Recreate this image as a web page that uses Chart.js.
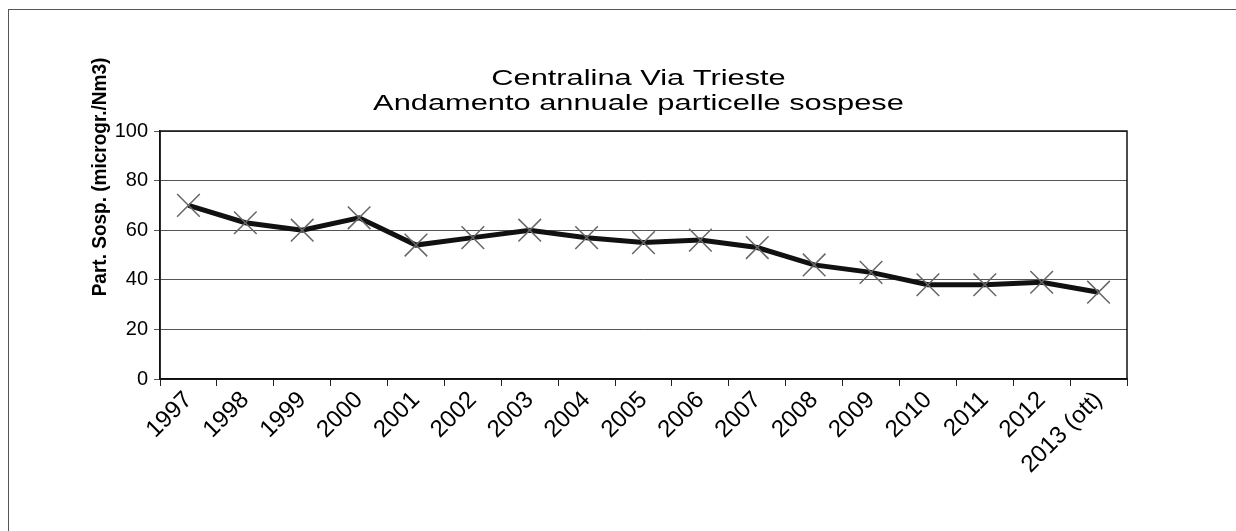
<!DOCTYPE html>
<html>
<head>
<meta charset="utf-8">
<script src="https://cdn.jsdelivr.net/npm/chart.js@4/dist/chart.umd.min.js"></script>
<style>
  html, body { margin: 0; padding: 0; background: #fff; }
  .frame {
    position: absolute; left: 8px; top: 9px; width: 1228px; height: 522px;
    border-top: 1px solid #555; border-left: 1px solid #555;
  }
  .chart-box { position: absolute; left: 0; top: 0; width: 1236px; height: 531px; }
</style>
</head>
<body>
<div class="frame"></div>
<div class="chart-box"><canvas id="chart" width="1236" height="531"></canvas></div>
<script>
// data
const years = ["1997", "1998", "1999", "2000", "2001", "2002", "2003", "2004", "2005",
  "2006", "2007", "2008", "2009", "2010", "2011", "2012", "2013 (ott)"];
const pm = [70, 63, 60, 65, 54, 57, 60, 57, 55, 56, 53, 46, 43, 38, 38, 39, 35];
const yTicks = [0, 20, 40, 60, 80, 100];

const titleLines = ["Centralina Via Trieste", "Andamento annuale particelle sospese"];
const yTitle = "Part. Sosp. (microgr./Nm3)";

const FONT = "'Liberation Sans', Arial, sans-serif";

// title, y axis title and plot frame, drawn like the spreadsheet did
const decorPlugin = {
  id: "decor",
  afterDraw(chart) {
    const { ctx, chartArea } = chart;
    const cx = (chartArea.left + chartArea.right) / 2;
    ctx.save();
    ctx.fillStyle = "#000";
    ctx.font = "22px " + FONT;
    ctx.textAlign = "center";
    ctx.textBaseline = "middle";
    // the scanned title is a bit wider than the plain font
    ctx.save();
    ctx.translate(cx - 5, 0);
    ctx.scale(1.4, 1);
    ctx.fillText(titleLines[0], 0, chartArea.top - 52);
    ctx.fillText(titleLines[1], 0, chartArea.top - 27);
    ctx.restore();

    ctx.font = "bold 19px " + FONT;
    ctx.translate(chartArea.left - 60, chartArea.top + 46);
    ctx.rotate(-Math.PI / 2);
    ctx.scale(1, 1.1);
    ctx.fillText(yTitle, 0, 0);
    ctx.restore();

    ctx.save();
    ctx.strokeStyle = "#111";
    ctx.lineWidth = 1.5;
    ctx.strokeRect(chartArea.left, chartArea.top, chartArea.right - chartArea.left, chartArea.bottom - chartArea.top);
    ctx.restore();
  }
};

new Chart(document.getElementById("chart"), {
  type: "line",
  data: {
    labels: years,
    datasets: [{
      data: pm,
      borderColor: "#111",
      borderWidth: 5,
      tension: 0,
      pointStyle: "crossRot",
      pointRadius: 16,
      pointHoverRadius: 16,
      pointBorderColor: "#666",
      pointBorderWidth: 1.5,
      pointBackgroundColor: "#666"
    }]
  },
  options: {
    responsive: false,
    animation: false,
    devicePixelRatio: 1,
    layout: { padding: { left: 0, right: 109, top: 131, bottom: 52 } },
    plugins: {
      legend: { display: false },
      title: { display: false },
      tooltip: { enabled: false }
    },
    scales: {
      x: {
        offset: true,
        grid: {
          offset: true,
          drawOnChartArea: false,
          drawTicks: true,
          tickLength: 7,
          color: "#222"
        },
        border: { color: "#111", width: 1.5 },
        ticks: {
          color: "#000",
          font: { family: FONT, size: 24 },
          maxRotation: 45,
          minRotation: 45,
          autoSkip: false,
          padding: 0
        },
        afterFit(scale) { scale.height = 100; }
      },
      y: {
        min: 0,
        max: 100,
        afterBuildTicks(scale) { scale.ticks = yTicks.map(v => ({ value: v })); },
        grid: {
          color: "#555",
          lineWidth: 1,
          tickLength: 6
        },
        border: { color: "#111", width: 1.5 },
        ticks: {
          color: "#000",
          font: { family: FONT, size: 20 },
          padding: 6
        },
        afterFit(scale) { scale.width = 160; }
      }
    }
  },
  plugins: [decorPlugin]
});
</script>
</body>
</html>
